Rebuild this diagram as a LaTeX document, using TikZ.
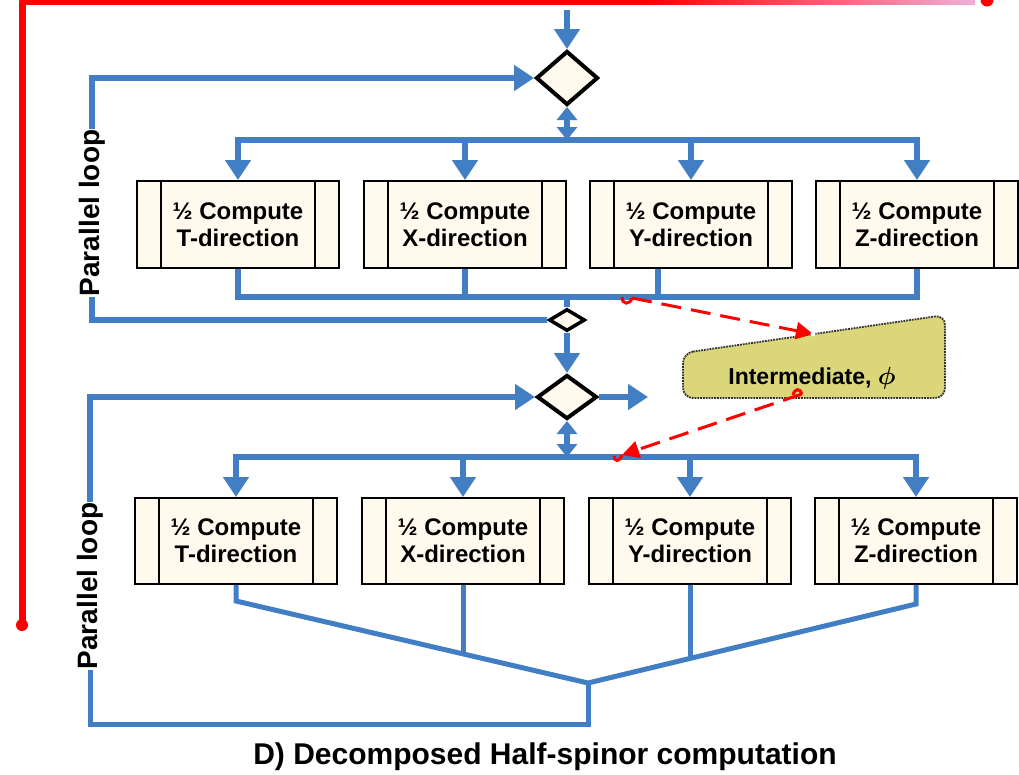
\documentclass[tikz,border=0pt]{standalone}
\usepackage{bm}
\usepackage{fontspec}
\setmainfont{Liberation Sans}
\usetikzlibrary{arrows.meta,shapes.geometric,calc}
\definecolor{flowblue}{RGB}{66,126,196}
\definecolor{cream}{RGB}{255,250,237}
\definecolor{olivefill}{RGB}{219,214,122}
\definecolor{pinkish}{RGB}{240,175,215}
\begin{document}
\begin{tikzpicture}[x=1pt,y=-1pt,
  flow/.style={draw=flowblue,line width=6pt},
  arr/.style={-{Triangle[width=25pt,length=20pt]}},
  darr/.style={{Triangle[width=20pt,length=13pt]}-{Triangle[width=20pt,length=13pt]}},
  dec/.style={shape=diamond,draw=black,fill=cream,line width=4pt,inner sep=0pt},
  task/.style={draw=black,fill=cream,line width=2pt,minimum width=202pt,minimum height=87pt,inner sep=0pt,align=center,
    font=\fontsize{24}{27}\selectfont\bfseries,
    path picture={\draw[line width=2pt]
      ([xshift=24pt]path picture bounding box.north west) -- ([xshift=24pt]path picture bounding box.south west)
      ([xshift=-24pt]path picture bounding box.north east) -- ([xshift=-24pt]path picture bounding box.south east);}},
  looplbl/.style={rotate=90,font=\fontsize{28}{30}\selectfont\bfseries,inner sep=1pt},
  data/.style={red,line width=3pt,dash pattern=on 20pt off 10pt,-{Triangle[width=17pt,length=17pt]}},
  hook/.style={red,line width=3pt}
]
\useasboundingbox (0,0) rectangle (1019,774);

% red frame
\draw[red,line width=7pt,line join=round] (650,1) -- (22,1) -- (22,625);
\shade[left color=red,right color=pinkish] (650,-2.5) rectangle (975,4.5);
\fill[red] (987,0) circle (6.5pt);
\fill[red] (22,625) circle (6pt);

% decision nodes
\node[dec,minimum width=62pt,minimum height=54pt] (d1) at (567,78) {};
\node[dec,line width=3.5pt,minimum width=36pt,minimum height=22pt] (sd) at (567,320) {};
\node[dec,minimum width=60pt,minimum height=44pt] (d2) at (567,397) {};

% tasks row 1
\node[task] (t1) at (238,224.5) {½ Compute\\T-direction};
\node[task] (x1) at (465,224.5) {½ Compute\\X-direction};
\node[task] (y1) at (691,224.5) {½ Compute\\Y-direction};
\node[task] (z1) at (917,224.5) {½ Compute\\Z-direction};
% tasks row 2
\node[task,minimum height=86pt] (t2) at (236,541) {½ Compute\\T-direction};
\node[task,minimum height=86pt] (x2) at (463,541) {½ Compute\\X-direction};
\node[task,minimum height=86pt] (y2) at (690,541) {½ Compute\\Y-direction};
\node[task,minimum height=86pt] (z2) at (916,541) {½ Compute\\Z-direction};

% loop labels
\node[looplbl] (L1) at (92,213) {Parallel loop};
\node[looplbl] (L2) at (90,586) {Parallel loop};

% coordinates
\coordinate (top) at (567,10);
\coordinate (b1) at (567,140);
\coordinate (b2) at (567,297);
\coordinate (ym) at (658,297);
\coordinate (b3) at (567,457);
\coordinate (out) at (648,397);
\coordinate (fan) at (588,683);
\coordinate (lb) at (588,724);
\coordinate (xm) at (463,653);
\coordinate (yv) at (690,658);

% upper section
\draw[flow,arr] (top) -- (d1.north);
\draw[flow,darr] (d1.south) -- (b1);
\foreach \n in {t1,x1,y1,z1} \draw[flow,arr] (b1) -| (\n.north);
\draw[flow] (t1.south) |- (b2) -| (z1.south);
\draw[flow] (x1.south) -- (x1.south |- b2);
\draw[flow] (y1.south -| ym) -- (ym);
\draw[flow] (b2) -- (sd.north);
\draw[flow] (sd.west) -| (L1.west);
\draw[flow,arr] (L1.east) |- (d1.west);
\draw[flow,arr] (sd.south) -- (d2.north);

% lower section
\draw[flow,arr] (d2.east) -- (out);
\draw[flow,darr] (d2.south) -- (b3);
\foreach \n in {t2,x2,y2,z2} \draw[flow,arr] (b3) -| (\n.north);
\draw[flow,line width=5pt,line join=miter] (t2.south) -- ++(0,16) -- (fan) -- ($(z2.south)+(0,19)$) -- (z2.south);
\draw[flow,line width=5pt] (x2.south) -- (xm);
\draw[flow,line width=5pt] (y2.south) -- (yv);
\draw[flow,line width=5pt] (fan) -- (lb) -| (L2.west);
\draw[flow,arr] (L2.east) |- (d2.west);

% intermediate data
\path[draw=black!80,densely dotted,line width=1.8pt,fill=olivefill,rounded corners=10pt]
  (683,353) -- (945,315) -- (945,398) -- (683,398) -- cycle;
\node[font=\fontsize{23}{25}\selectfont\bfseries] (inter) at (812,378) {Intermediate, $\bm{\phi}$};

% data flow
\coordinate (r1s) at (632,298);
\coordinate (r1e) at (813,334);
\coordinate (r2s) at (802,394);
\coordinate (r2e) at (622,455);
\draw[data] (r1s) -- (r1e);
\draw[data] (r2s) -- (r2e);
\draw[hook] (r1s) .. controls (630,305) and (622,305) .. (622,297);
\draw[hook] (r2e) .. controls (620,462) and (614,462) .. (614,456);
\draw[hook] (802,394) .. controls (800,388) and (795,388) .. (793,395);
\fill[white] (813,334) circle (2.5pt);

% caption
\node[font=\fontsize{30}{32}\selectfont\bfseries] (cap) at (545,757) {D) Decomposed Half-spinor computation};
\end{tikzpicture}
\end{document}
